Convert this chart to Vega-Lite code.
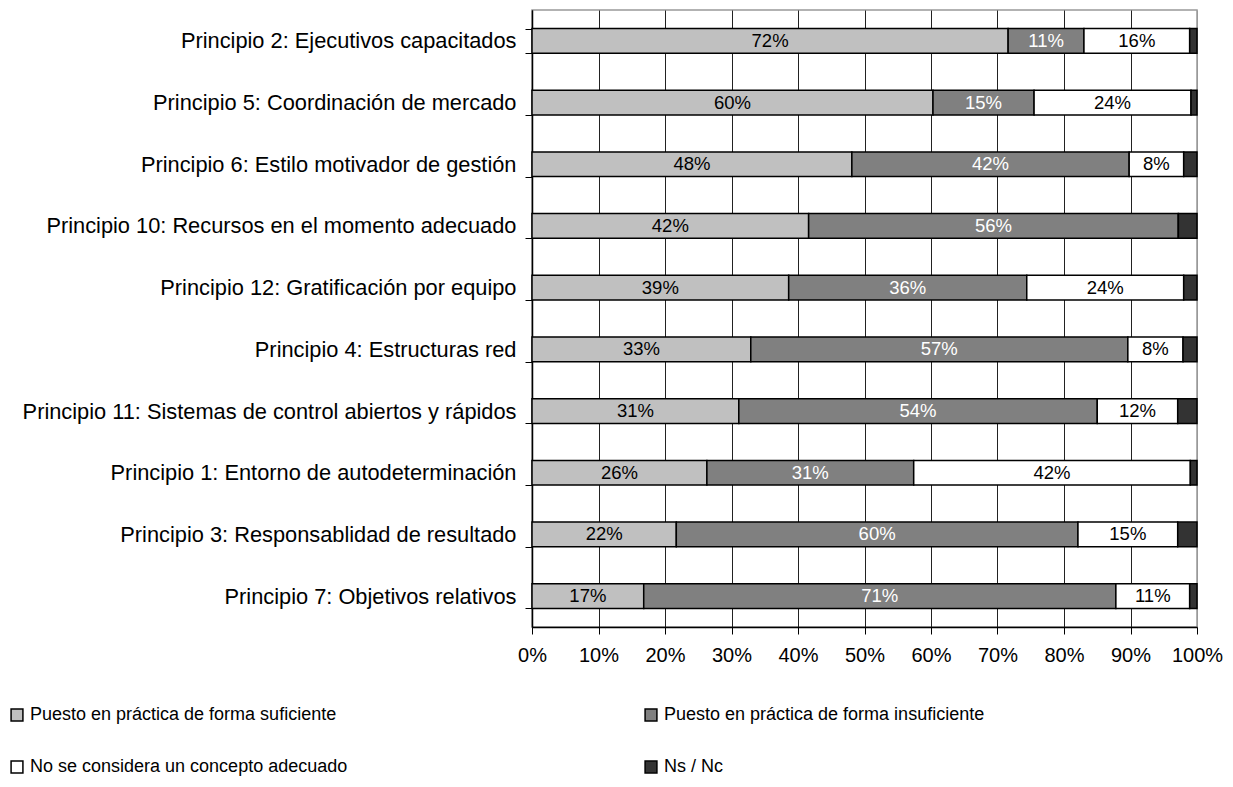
{
  "$schema": "https://vega.github.io/schema/vega-lite/v6.json",
  "width": 665,
  "height": 617,
  "autosize": "none",
  "padding": {"left": 532, "top": 10, "right": 36, "bottom": 160},
  "background": "white",
  "config": {
    "font": "Liberation Sans",
    "view": {"stroke": "#999999", "strokeWidth": 1.5}
  },
  "data": {
    "values": [
      {"categoria": "Principio 2: Ejecutivos capacitados", "respuesta": "Puesto en práctica de forma suficiente", "orden": 1, "valor": 0.716},
      {"categoria": "Principio 2: Ejecutivos capacitados", "respuesta": "Puesto en práctica de forma insuficiente", "orden": 2, "valor": 0.114},
      {"categoria": "Principio 2: Ejecutivos capacitados", "respuesta": "No se considera un concepto adecuado", "orden": 3, "valor": 0.159},
      {"categoria": "Principio 2: Ejecutivos capacitados", "respuesta": "Ns / Nc", "orden": 4, "valor": 0.011},
      {"categoria": "Principio 5: Coordinación de mercado", "respuesta": "Puesto en práctica de forma suficiente", "orden": 1, "valor": 0.603},
      {"categoria": "Principio 5: Coordinación de mercado", "respuesta": "Puesto en práctica de forma insuficiente", "orden": 2, "valor": 0.152},
      {"categoria": "Principio 5: Coordinación de mercado", "respuesta": "No se considera un concepto adecuado", "orden": 3, "valor": 0.236},
      {"categoria": "Principio 5: Coordinación de mercado", "respuesta": "Ns / Nc", "orden": 4, "valor": 0.009},
      {"categoria": "Principio 6: Estilo motivador de gestión", "respuesta": "Puesto en práctica de forma suficiente", "orden": 1, "valor": 0.481},
      {"categoria": "Principio 6: Estilo motivador de gestión", "respuesta": "Puesto en práctica de forma insuficiente", "orden": 2, "valor": 0.417},
      {"categoria": "Principio 6: Estilo motivador de gestión", "respuesta": "No se considera un concepto adecuado", "orden": 3, "valor": 0.082},
      {"categoria": "Principio 6: Estilo motivador de gestión", "respuesta": "Ns / Nc", "orden": 4, "valor": 0.020},
      {"categoria": "Principio 10: Recursos en el momento adecuado", "respuesta": "Puesto en práctica de forma suficiente", "orden": 1, "valor": 0.416},
      {"categoria": "Principio 10: Recursos en el momento adecuado", "respuesta": "Puesto en práctica de forma insuficiente", "orden": 2, "valor": 0.556},
      {"categoria": "Principio 10: Recursos en el momento adecuado", "respuesta": "No se considera un concepto adecuado", "orden": 3, "valor": 0.0},
      {"categoria": "Principio 10: Recursos en el momento adecuado", "respuesta": "Ns / Nc", "orden": 4, "valor": 0.028},
      {"categoria": "Principio 12: Gratificación por equipo", "respuesta": "Puesto en práctica de forma suficiente", "orden": 1, "valor": 0.386},
      {"categoria": "Principio 12: Gratificación por equipo", "respuesta": "Puesto en práctica de forma insuficiente", "orden": 2, "valor": 0.358},
      {"categoria": "Principio 12: Gratificación por equipo", "respuesta": "No se considera un concepto adecuado", "orden": 3, "valor": 0.236},
      {"categoria": "Principio 12: Gratificación por equipo", "respuesta": "Ns / Nc", "orden": 4, "valor": 0.020},
      {"categoria": "Principio 4: Estructuras red", "respuesta": "Puesto en práctica de forma suficiente", "orden": 1, "valor": 0.329},
      {"categoria": "Principio 4: Estructuras red", "respuesta": "Puesto en práctica de forma insuficiente", "orden": 2, "valor": 0.567},
      {"categoria": "Principio 4: Estructuras red", "respuesta": "No se considera un concepto adecuado", "orden": 3, "valor": 0.083},
      {"categoria": "Principio 4: Estructuras red", "respuesta": "Ns / Nc", "orden": 4, "valor": 0.021},
      {"categoria": "Principio 11: Sistemas de control abiertos y rápidos", "respuesta": "Puesto en práctica de forma suficiente", "orden": 1, "valor": 0.311},
      {"categoria": "Principio 11: Sistemas de control abiertos y rápidos", "respuesta": "Puesto en práctica de forma insuficiente", "orden": 2, "valor": 0.539},
      {"categoria": "Principio 11: Sistemas de control abiertos y rápidos", "respuesta": "No se considera un concepto adecuado", "orden": 3, "valor": 0.121},
      {"categoria": "Principio 11: Sistemas de control abiertos y rápidos", "respuesta": "Ns / Nc", "orden": 4, "valor": 0.029},
      {"categoria": "Principio 1: Entorno de autodeterminación", "respuesta": "Puesto en práctica de forma suficiente", "orden": 1, "valor": 0.263},
      {"categoria": "Principio 1: Entorno de autodeterminación", "respuesta": "Puesto en práctica de forma insuficiente", "orden": 2, "valor": 0.311},
      {"categoria": "Principio 1: Entorno de autodeterminación", "respuesta": "No se considera un concepto adecuado", "orden": 3, "valor": 0.416},
      {"categoria": "Principio 1: Entorno de autodeterminación", "respuesta": "Ns / Nc", "orden": 4, "valor": 0.010},
      {"categoria": "Principio 3: Responsablidad de resultado", "respuesta": "Puesto en práctica de forma suficiente", "orden": 1, "valor": 0.217},
      {"categoria": "Principio 3: Responsablidad de resultado", "respuesta": "Puesto en práctica de forma insuficiente", "orden": 2, "valor": 0.604},
      {"categoria": "Principio 3: Responsablidad de resultado", "respuesta": "No se considera un concepto adecuado", "orden": 3, "valor": 0.150},
      {"categoria": "Principio 3: Responsablidad de resultado", "respuesta": "Ns / Nc", "orden": 4, "valor": 0.029},
      {"categoria": "Principio 7: Objetivos relativos", "respuesta": "Puesto en práctica de forma suficiente", "orden": 1, "valor": 0.168},
      {"categoria": "Principio 7: Objetivos relativos", "respuesta": "Puesto en práctica de forma insuficiente", "orden": 2, "valor": 0.710},
      {"categoria": "Principio 7: Objetivos relativos", "respuesta": "No se considera un concepto adecuado", "orden": 3, "valor": 0.111},
      {"categoria": "Principio 7: Objetivos relativos", "respuesta": "Ns / Nc", "orden": 4, "valor": 0.011}
    ]
  },
  "transform": [
    {"stack": "valor", "groupby": ["categoria"], "sort": [{"field": "orden"}], "as": ["v0", "v1"]},
    {"calculate": "(datum.v0 + datum.v1) / 2", "as": "medio"}
  ],
  "encoding": {
    "y": {
      "field": "categoria",
      "type": "nominal",
      "sort": null,
      "title": null,
      "scale": {"paddingInner": 0.6, "paddingOuter": 0.3},
      "axis": {
        "domainColor": "#000000",
        "domainWidth": 1.5,
        "tickColor": "#000000",
        "tickSize": 7,
        "tickBand": "extent",
        "labelFontSize": 21.8,
        "labelColor": "#000000",
        "labelPadding": 9,
        "labelLimit": 700
      }
    }
  },
  "layer": [
    {
      "mark": {"type": "bar", "stroke": "#000000", "strokeWidth": 1.5},
      "encoding": {
        "x": {
          "field": "v0",
          "type": "quantitative",
          "scale": {"domain": [0, 1], "nice": false},
          "title": null,
          "axis": {
            "format": ".0%",
            "values": [0, 0.1, 0.2, 0.3, 0.4, 0.5, 0.6, 0.7, 0.8, 0.9, 1],
            "grid": true,
            "gridColor": {"condition": {"test": "datum.value === 1", "value": "#999999"}, "value": "#222222"},
            "gridWidth": 1,
            "domainColor": "#000000",
            "domainWidth": 1.5,
            "tickColor": "#000000",
            "tickSize": 7,
            "labelFontSize": 20,
            "labelColor": "#000000",
            "labelPadding": 11,
            "labelFlush": false
          }
        },
        "x2": {"field": "v1"},
        "color": {
          "field": "respuesta",
          "type": "nominal",
          "scale": {
            "domain": ["Puesto en práctica de forma suficiente", "Puesto en práctica de forma insuficiente", "No se considera un concepto adecuado", "Ns / Nc"],
            "range": ["#C0C0C0", "#808080", "#FFFFFF", "#333333"]
          },
          "legend": {
            "title": null,
            "orient": "none",
            "legendX": -524,
            "legendY": 696,
            "direction": "horizontal",
            "columns": 2,
            "columnPadding": 294,
            "rowPadding": 34,
            "symbolType": "square",
            "symbolSize": 140,
            "symbolStrokeColor": "#000000",
            "symbolStrokeWidth": 1.5,
            "labelFontSize": 18,
            "labelColor": "#000000",
            "labelOffset": 4,
            "labelLimit": 500
          }
        }
      }
    },
    {
      "transform": [
        {"filter": "datum.respuesta !== 'Ns / Nc' && datum.valor > 0"}
      ],
      "mark": {"type": "text", "fontSize": 18.5, "align": "center", "baseline": "middle"},
      "encoding": {
        "x": {"field": "medio", "type": "quantitative"},
        "text": {"field": "valor", "type": "quantitative", "format": ".0%"},
        "color": {
          "condition": {"test": "datum.respuesta === 'Puesto en práctica de forma insuficiente'", "value": "#FFFFFF"},
          "value": "#000000"
        }
      }
    }
  ]
}
